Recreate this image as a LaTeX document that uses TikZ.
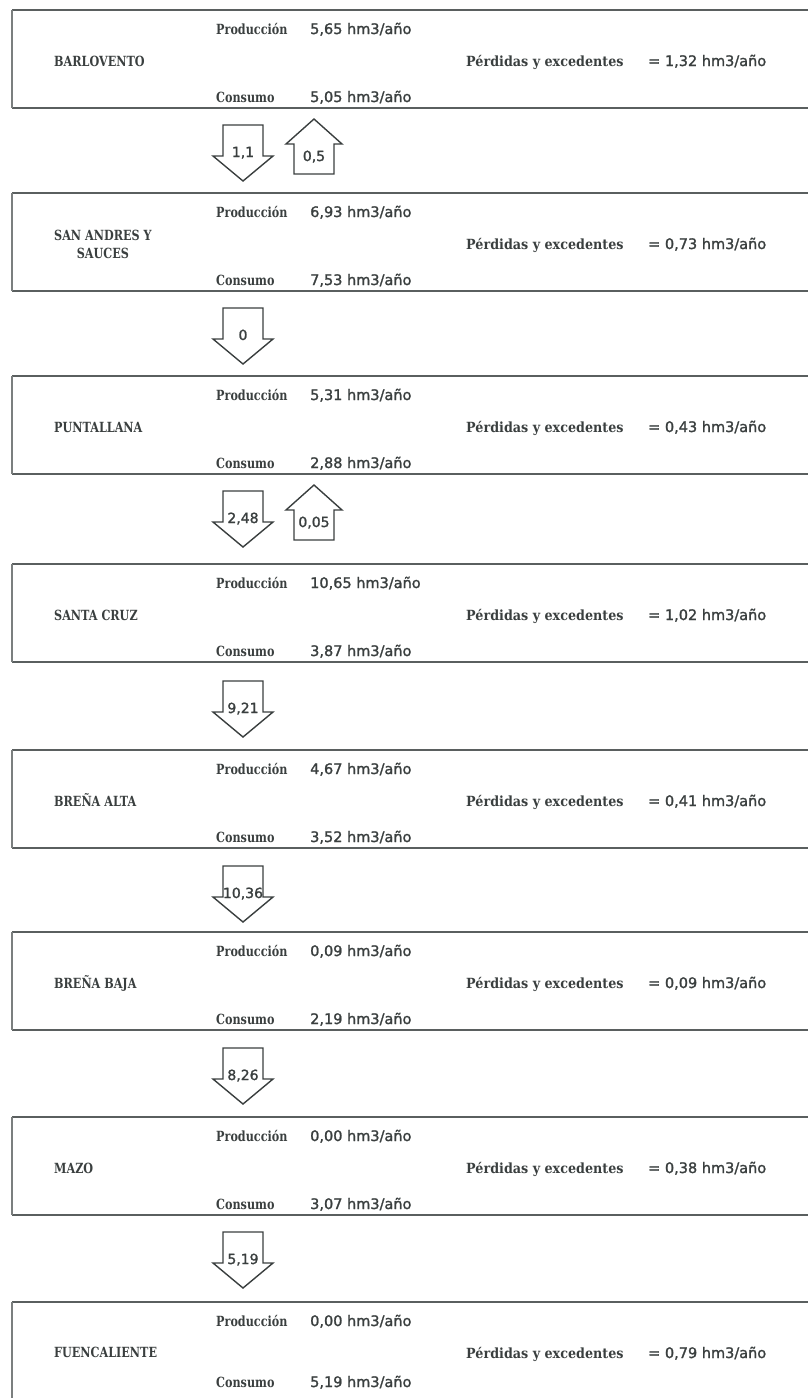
\documentclass[tikz,border=0pt]{standalone}
\usepackage{fontspec}
\newfontfamily\rotulo{DejaVu Serif}[FakeStretch=0.8]
\newfontfamily\rotuloancho{DejaVu Serif}[FakeStretch=0.91]
\newfontfamily\cifra{DejaVu Sans}[FakeBold=1.5]
\definecolor{tinta}{HTML}{3A3F3F}
\definecolor{raya}{HTML}{5A5F5F}

\tikzset{
  marco/.style={draw=raya, line width=1.8pt},
  lado/.style={draw=raya!80, line width=1.1pt},
  etiqueta/.style={anchor=west, inner sep=0pt, text=tinta, text height=10pt, text depth=0pt,
    font=\rotulo\bfseries\fontsize{14}{16}\selectfont},
  perdida/.style={etiqueta, font=\rotuloancho\bfseries\fontsize{14}{16}\selectfont},
  dato/.style={anchor=west, inner sep=0pt, text=tinta, text height=10pt, text depth=0pt,
    font=\cifra\fontsize{14.5}{16}\selectfont},
  flecha/.style={draw=tinta, line width=1.4pt, line join=miter},
  valor/.style={inner sep=0pt, text=tinta, text height=10pt, text depth=0pt,
    font=\cifra\fontsize{14}{15}\selectfont},
  bajada/.pic={
    \draw[flecha] (-20,0) -- (20,0) -- (20,31) -- (30,31) -- (0,56)
      -- (-30,31) -- (-20,31) -- cycle;
    \node[valor] (v) at (0,27) {#1};
  },
  subida/.pic={
    \draw[flecha] (0,0) -- (28,25) -- (20,25) -- (20,55) -- (-20,55)
      -- (-20,25) -- (-28,25) -- cycle;
    \node[valor] (v) at (0,37) {#1};
  }
}

% #1 id, #2 top edge, #3 production, #4 consumption, #5 losses, #6 row of the consumption line
\newcommand\zona[6]{%
  \draw[marco] (830,#2) -- (12,#2);
  \draw[marco] (12,#2+98) -- (830,#2+98);
  \draw[lado] (12,#2) -- (12,#2+98);
  \node[etiqueta] (p#1) at (216,#2+19) {Producción};
  \node[dato] (pv#1) at (310,#2+19) {#3 hm3/año};
  \node[etiqueta] (c#1) at (216,#2+#6) {Consumo};
  \node[dato] (cv#1) at (310,#2+#6) {#4 hm3/año};
  \node[perdida] (l#1) at (466,#2+51) {Pérdidas y excedentes};
  \node[dato] (lv#1) at (648,#2+51) {= #5 hm3/año};
}

\begin{document}
\begin{tikzpicture}[x=1pt, y=-1pt]
\path[use as bounding box] (0,0) rectangle (808,1398);

\zona{1}{10}{5,65}{5,05}{1,32}{87}
\node[etiqueta] (m1) at (54,61) {BARLOVENTO};

\zona{2}{193}{6,93}{7,53}{0,73}{87}
\node[etiqueta, text height=, text depth=, align=center] (m2) at (54,244)
  {SAN ANDRES Y\\[2pt]SAUCES};

\zona{3}{376}{5,31}{2,88}{0,43}{87}
\node[etiqueta] (m3) at (54,427) {PUNTALLANA};

\zona{4}{564}{10,65}{3,87}{1,02}{87}
\node[etiqueta] (m4) at (54,615) {SANTA CRUZ};

\zona{5}{750}{4,67}{3,52}{0,41}{87}
\node[etiqueta] (m5) at (54,801) {BREÑA ALTA};

\zona{6}{932}{0,09}{2,19}{0,09}{87}
\node[etiqueta] (m6) at (54,983) {BREÑA BAJA};

\zona{7}{1117}{0,00}{3,07}{0,38}{87}
\node[etiqueta] (m7) at (54,1168) {MAZO};

\zona{8}{1302}{0,00}{5,19}{0,79}{80}
\node[etiqueta] (m8) at (54,1352) {FUENCALIENTE};

% transfers between neighbouring municipalities
\pic (d1) at (243,125) {bajada={1,1}};
\pic (u1) at (314,119) {subida={0,5}};
\pic (d2) at (243,308) {bajada={0}};
\pic (d3) at (243,491) {bajada={2,48}};
\pic (u3) at (314,485) {subida={0,05}};
\pic (d4) at (243,681) {bajada={9,21}};
\pic (d5) at (243,866) {bajada={10,36}};
\pic (d6) at (243,1048) {bajada={8,26}};
\pic (d7) at (243,1232) {bajada={5,19}};
\end{tikzpicture}
\end{document}
